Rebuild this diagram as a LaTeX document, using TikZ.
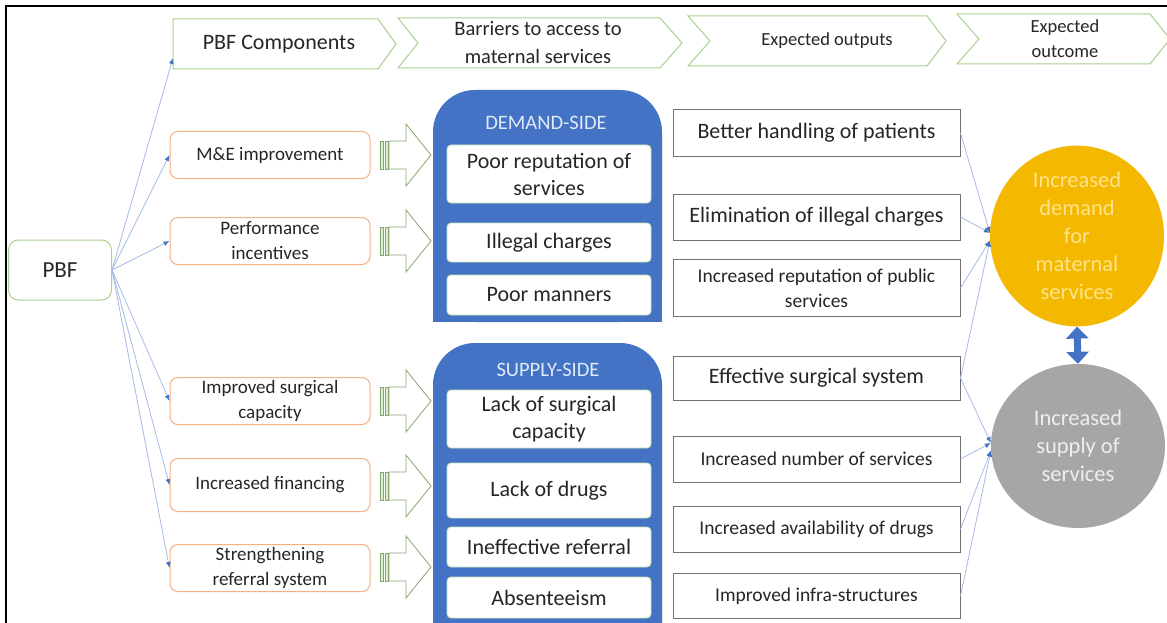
\documentclass[tikz,border=0pt]{standalone}
\usepackage{fontspec}
\setmainfont{Carlito}
\usetikzlibrary{shapes.geometric, arrows.meta}

\definecolor{hdrgreen}{HTML}{A9D18E}
\definecolor{compor}{HTML}{F4B183}
\definecolor{boxgreen}{HTML}{C5E0B4}
\definecolor{panelblue}{HTML}{4472C4}
\definecolor{titleblue}{HTML}{DEEBF7}
\definecolor{outgray}{HTML}{707070}
\definecolor{connblue}{HTML}{A4BCE8}
\definecolor{demandyellow}{HTML}{F5B800}
\definecolor{demandtext}{HTML}{FFE38A}
\definecolor{supplygray}{HTML}{A6A6A6}
\definecolor{supplytext}{HTML}{EEEEEE}
\definecolor{txtgray}{HTML}{262626}

\tikzset{
  hdr/.style={draw=hdrgreen, line width=1pt, fill=white},
  hdrtext/.style={align=center, text=txtgray, font=\fontsize{18.5}{25}\selectfont},
  pbfbox/.style={draw=hdrgreen, line width=1pt, rounded corners=10pt, fill=white,
    minimum width=103pt, minimum height=60pt, text=txtgray, font=\fontsize{23}{27}\selectfont},
  comp/.style={draw=compor, line width=1pt, rounded corners=8pt, fill=white,
    minimum width=200pt, minimum height=47pt, inner ysep=1pt, align=center,
    text=txtgray, font=\fontsize{19}{25}\selectfont},
  paneltitle/.style={text=titleblue, font=\fontsize{20.5}{24}\selectfont},
  barrier/.style={draw=boxgreen, line width=0.8pt, rounded corners=4pt, fill=white,
    minimum width=204pt, inner ysep=1pt, align=center, text=txtgray,
    font=\fontsize{22}{27}\selectfont},
  output/.style={draw=outgray, line width=1pt, fill=white, minimum width=287pt,
    minimum height=46pt, inner ysep=1pt, align=center, text=txtgray,
    font=\fontsize{19.5}{25}\selectfont},
  outbig/.style={output, font=\fontsize{22}{27}\selectfont},
  result/.style={ellipse, minimum width=174pt, minimum height=163pt, inner sep=0pt,
    align=center, font=\fontsize{22.5}{28}\selectfont},
  conn/.style={draw=connblue, line width=0.8pt, -{Latex[length=6pt,width=5pt,color=panelblue]}},
  dblarrow/.style={draw=panelblue, line width=7pt,
    {Triangle[width=22pt,length=12pt]}-{Triangle[width=22pt,length=12pt]}},
  pics/barrow/.style={code={
    \draw[hdrgreen!80!black, line width=0.8pt, fill=white]
      (9,-14) -- (26,-14) -- (26,-31) -- (51,0) -- (26,31) -- (26,14) -- (9,14) -- cycle;
    \draw[hdrgreen!80!black, line width=0.8pt, fill=hdrgreen!40] (0,-14) rectangle (3,14);
    \draw[hdrgreen!80!black, line width=0.8pt, fill=hdrgreen!40] (5,-14) rectangle (8,14);
  }}
}

\begin{document}
\begin{tikzpicture}[x=1pt,y=-1pt]
\useasboundingbox (0,0) rectangle (1167,623);
\clip (0,0) rectangle (1167,623);
\fill[white] (0,0) rectangle (1167,623);
\draw[line width=1.5pt] (6,650) -- (6,6) -- (1180,6);

% header row
\draw[hdr] (173,19) -- (378,19) -- (396,44) -- (378,69) -- (173,69) -- cycle;
\draw[hdr] (398,18) -- (660,18) -- (682,43) -- (660,68) -- (398,68) -- (418,43) -- cycle;
\draw[hdr] (688,16) -- (927,16) -- (946,41) -- (927,66) -- (688,66) -- (710,41) -- cycle;
\draw[hdr] (957,14) -- (1150,14) -- (1170,39) -- (1150,64) -- (957,64) -- (979,39) -- cycle;
\node[hdrtext, font=\fontsize{22}{26}\selectfont] (hcomp) at (279,44) {PBF Components};
\node[hdrtext, font=\fontsize{20.5}{28}\selectfont] (hbar) at (538,43) {Barriers to access to\\maternal services};
\node[hdrtext] (hout) at (827,41) {Expected outputs};
\node[hdrtext] (hres) at (1065,39) {Expected\\outcome};
\coordinate (compin) at (173,58);

% PBF and its components
\node[pbfbox] (pbf) at (60,270) {PBF};
\node[comp] (me) at (270,155) {M\&E improvement};
\node[comp] (perf) at (270,241) {Performance\\incentives};
\node[comp] (surg) at (270,401) {Improved surgical\\capacity};
\node[comp, minimum height=53pt] (fin) at (270,485) {Increased financing};
\node[comp] (refer) at (270,568) {Strengthening\\referral system};

\pic at (380,155) {barrow};
\pic at (380,241) {barrow};
\pic at (380,401) {barrow};
\pic at (380,486) {barrow};
\pic at (380,567) {barrow};

% barriers
\fill[panelblue, rounded corners=42pt] (433,90) rectangle (662,322);
\fill[panelblue] (433,200) rectangle (662,322);
\node[paneltitle] (dtitle) at (546,123) {DEMAND-SIDE};
\node[barrier, minimum height=58pt] (repu) at (549,174) {Poor reputation of\\services};
\node[barrier, minimum height=39pt] (illeg) at (549,242.5) {Illegal charges};
\node[barrier, minimum height=40pt] (mann) at (549,295) {Poor manners};

\fill[panelblue, rounded corners=42pt] (433,343) rectangle (662,700);
\node[paneltitle] (stitle) at (548,370) {SUPPLY-SIDE};
\node[barrier, minimum height=58pt] (lsurg) at (549,419) {Lack of surgical\\capacity};
\node[barrier, minimum height=55pt] (ldrug) at (549,490.5) {Lack of drugs};
\node[barrier, minimum height=40pt] (ineff) at (549,547) {Ineffective referral};
\node[barrier, minimum height=41pt] (absent) at (549,597.5) {Absenteeism};

% outputs
\node[outbig] (better) at (816.5,133) {Better handling of patients};
\node[outbig] (elim) at (816.5,217) {Elimination of illegal charges};
\node[output, minimum height=57pt] (irep) at (816.5,288) {Increased reputation of public\\services};
\node[outbig, minimum height=44pt] (effsurg) at (816.5,378) {Effective surgical system};
\node[output] (inum) at (816.5,459) {Increased number of services};
\node[output] (iavail) at (816.5,529) {Increased availability of drugs};
\node[output, minimum height=45pt] (infra) at (816.5,596) {Improved infra-structures};

% outcomes
\node[result, fill=demandyellow, text=demandtext] (demand) at (1077,236)
  {Increased\\demand\\for\\maternal\\services};
\node[result, fill=supplygray, text=supplytext, minimum height=164pt] (supply) at (1078,446)
  {Increased\\supply of\\services};
\draw[dblarrow] (demand.south) -- (supply.north);

% connectors
\draw[conn] (pbf.east) -- (compin);
\draw[conn] (pbf.east) -- (me.west);
\draw[conn] (pbf.east) -- (perf.west);
\draw[conn] (pbf.east) -- (surg.west);
\draw[conn] (pbf.east) -- (fin.west);
\draw[conn] (pbf.east) -- (refer.west);

\draw[conn] (better.east) -- (demand.178);
\draw[conn] (elim.east) -- (demand.178);
\draw[conn] (irep.east) -- (demand.183);
\draw[conn] (effsurg.east) -- (demand.183);
\draw[conn] (effsurg.east) -- (supply.178);
\draw[conn] (inum.east) -- (supply.178);
\draw[conn] (iavail.east) -- (supply.183);
\draw[conn] (infra.east) -- (supply.183);
\end{tikzpicture}
\end{document}
